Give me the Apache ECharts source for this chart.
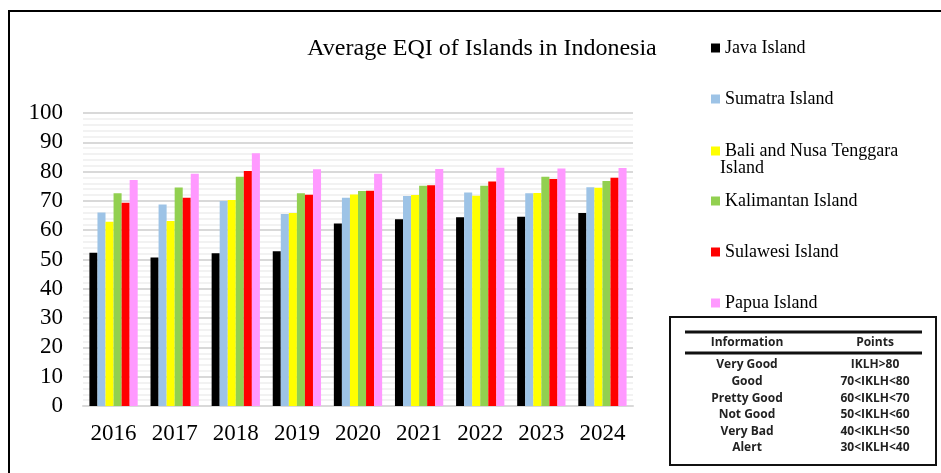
<!DOCTYPE html>
<html>
<head>
<meta charset="utf-8">
<script src="https://cdn.jsdelivr.net/npm/echarts@6/dist/echarts.min.js"></script>
<style>
  html, body { margin: 0; padding: 0; background: #fff; }
  #chart { width: 941px; height: 473px; }
</style>
</head>
<body>
<div id="chart"></div>
<script>
// values
const years = ['2016', '2017', '2018', '2019', '2020', '2021', '2022', '2023', '2024'];
const islandNames = ['Java Island', 'Sumatra Island', 'Bali and Nusa Tenggara Island', 'Kalimantan Island', 'Sulawesi Island', 'Papua Island'];
const islandColors = ['#000000', '#9dc3e6', '#ffff00', '#92d050', '#ff0000', '#ff99ff'];

const java       = [52.3, 50.7, 52.1, 52.8, 62.3, 63.7, 64.4, 64.6, 65.9];
const sumatra    = [66.0, 68.8, 70.0, 65.5, 71.1, 71.7, 72.9, 72.6, 74.7];
const bali       = [62.9, 63.1, 70.3, 65.9, 72.2, 72.0, 71.8, 72.7, 74.5];
const kalimantan = [72.6, 74.6, 78.2, 72.6, 73.4, 75.2, 75.2, 78.2, 76.8];
const sulawesi   = [69.4, 71.1, 80.2, 72.1, 73.5, 75.3, 76.6, 77.5, 77.9];
const papua      = [77.1, 79.3, 86.3, 80.8, 79.3, 80.9, 81.3, 81.1, 81.2];
const allValues = [java, sumatra, bali, kalimantan, sulawesi, papua];

const tableHead = ['Information', 'Points'];
const tableInfo = ['Very Good', 'Good', 'Pretty Good', 'Not Good', 'Very Bad', 'Alert'];
const tablePoints = ['IKLH>80', '70<IKLH<80', '60<IKLH<70', '50<IKLH<60', '40<IKLH<50', '30<IKLH<40'];

const serif = '"Liberation Serif", "Times New Roman", serif';
const sans = '"Open Sans", "Noto Sans", sans-serif';

let chart = echarts.init(document.getElementById('chart'), null, { renderer: 'canvas' });

// one legend per item so the spacing can follow the picture
const legendTops = [34, 85, 137, 187, 238, 289];
let legends = islandNames.map((name, i) => ({
  data: [name],
  left: 706,
  top: legendTops[i],
  itemWidth: 9,
  itemHeight: 9,
  itemGap: 4,
  icon: 'rect',
  selectedMode: false,
  formatter: n => n === 'Bali and Nusa Tenggara Island' ? 'Bali and Nusa Tenggara' : n,
  textStyle: { fontFamily: serif, fontSize: 18, color: '#000' }
}));

let series = islandNames.map((name, i) => ({
  name: name,
  type: 'bar',
  data: allValues[i],
  barGap: '0%',
  barCategoryGap: '21%',
  itemStyle: { color: islandColors[i] }
}));

// info table at the bottom right
let tableGraphics = [
  { type: 'rect', shape: { x: 670, y: 317, width: 266, height: 148 }, style: { fill: '#fff', stroke: '#111', lineWidth: 2 } },
  { type: 'line', shape: { x1: 685, y1: 332, x2: 922, y2: 332 }, style: { stroke: '#111', lineWidth: 3 } },
  { type: 'line', shape: { x1: 685, y1: 353, x2: 922, y2: 353 }, style: { stroke: '#111', lineWidth: 3 } },
  { type: 'text', x: 747, y: 343, style: { text: tableHead[0], font: 'bold 12px ' + sans, fill: '#222', align: 'center', verticalAlign: 'middle' } },
  { type: 'text', x: 875, y: 343, style: { text: tableHead[1], font: 'bold 12px ' + sans, fill: '#222', align: 'center', verticalAlign: 'middle' } }
];
tableInfo.forEach((t, i) => {
  let y = 365 + i * 16.6;
  tableGraphics.push({ type: 'text', x: 747, y: y, style: { text: t, font: 'bold 12px ' + sans, fill: '#222', align: 'center', verticalAlign: 'middle' } });
  tableGraphics.push({ type: 'text', x: 875, y: y, style: { text: tablePoints[i], font: 'bold 12px ' + sans, fill: '#222', align: 'center', verticalAlign: 'middle' } });
});

let option = {
  backgroundColor: '#fff',
  animation: false,
  title: {
    text: 'Average EQI of Islands in Indonesia',
    left: 477,
    top: 32,
    textAlign: 'center',
    textStyle: { fontFamily: serif, fontSize: 24, fontWeight: 'normal', color: '#000' }
  },
  legend: legends,
  grid: { left: 83, right: 308, top: 113, bottom: 67 },
  xAxis: {
    type: 'category',
    data: years,
    axisLine: { lineStyle: { color: '#d9d9d9', width: 2 } },
    axisTick: { show: false },
    axisLabel: { fontFamily: serif, fontSize: 23, color: '#000', margin: 16 }
  },
  yAxis: {
    type: 'value',
    min: 0,
    max: 100,
    interval: 10,
    axisLine: { show: false },
    axisTick: { show: false },
    axisLabel: { fontFamily: serif, fontSize: 23, color: '#000', margin: 20 },
    splitLine: { lineStyle: { color: '#d9d9d9', width: 2 } },
    minorTick: { show: false, splitNumber: 5 },
    minorSplitLine: { show: true, lineStyle: { color: '#eeeeee', width: 1.5 } }
  },
  series: series,
  graphic: [
    { type: 'rect', shape: { x: 9, y: 11, width: 950, height: 480 }, style: { fill: 'none', stroke: '#000', lineWidth: 2 }, z: 100 },
    { type: 'text', x: 720, y: 159, style: { text: 'Island', font: '18px ' + serif, fill: '#000' } },
    ...tableGraphics
  ]
};

chart.setOption(option);

window.addEventListener('resize', chart.resize);
</script>
</body>
</html>
